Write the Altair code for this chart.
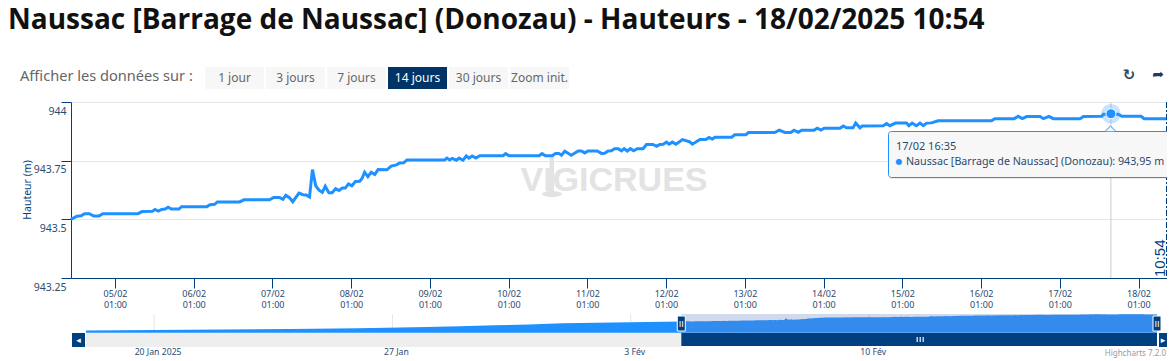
import altair as alt
import pandas as pd

# ---- data ----
START = pd.Timestamp("2025-02-04T11:36:00")
END = pd.Timestamp("2025-02-18T10:54:00")

hours = [0.0,1.8,3.1,4.1,5.6,6.9,8.5,9.7,20.4,21.7,24.8,25.6,26.6,27.6,28.7,29.6,30.6,32.9,33.7,41.4,42.4,43.8,44.6,51.4,52.7,60.5,61.8,63.6,64.6,65.5,66.6,67.6,69.5,70.7,71.7,72.7,73.6,74.6,75.6,76.6,77.5,78.6,79.6,80.7,81.7,82.7,83.6,84.6,85.6,86.7,88.0,88.7,89.5,90.5,91.5,92.6,93.6,
 96.3,97.6,99.2,100.2,101.4,102.4,113.9,114.6,115.4,116.2,117.5,118.3,119.5,120.5,121.3,122.3,123.4,124.6,131.7,132.5,133.5,142.7,143.6,144.6,146.7,147.7,148.7,149.5,150.5,152.5,154.6,155.6,156.6,157.6,160.4,161.7,162.7,163.7,164.7,165.7,166.8,167.8,168.6,169.6,170.5,171.5,172.6,174.4,175.4,177.4,178.5,179.5,180.5,181.5,182.3,183.3,184.4,186.4,188.6,189.4,191.7,193.5,194.5,195.5,196.3,201.4,202.3,205.7,206.5,214.5,215.9,
 217.6,219.4,220.4,221.7,222.7,226.5,227.5,228.6,229.6,234.4,235.4,236.4,238.4,239.2,240.5,241.2,247.6,248.6,249.6,251.3,254.7,255.4,256.4,257.7,258.8,259.8,260.8,262.3,264.3,280.6,281.6,287.5,288.7,290.0,291.3,295.4,296.4,298.1,299.4,307.6,308.6,314.2,314.7,319.2,320.3,326.2,327.1,335.3]
heights = [943.50,943.513,943.515,943.524,943.524,943.514,943.514,943.524,943.524,943.533,943.534,943.542,943.535,943.542,943.544,943.552,943.544,943.544,943.554,943.554,943.562,943.564,943.574,943.574,943.583,943.583,943.593,943.593,943.585,943.602,943.592,943.575,943.612,943.605,943.604,943.595,943.712,943.643,943.624,943.615,943.641,943.613,943.613,943.631,943.623,943.633,943.633,943.651,943.643,943.661,943.662,943.674,943.701,943.682,943.701,943.691,943.712,
 943.711,943.727,943.732,943.740,943.741,943.753,943.753,943.761,943.753,943.760,943.752,943.761,943.752,943.770,943.761,943.770,943.761,943.771,943.771,943.780,943.771,943.771,943.780,943.771,943.771,943.781,943.781,943.773,943.790,943.773,943.791,943.791,943.783,943.791,943.791,943.781,943.782,943.791,943.792,943.801,943.801,943.792,943.801,943.791,943.801,943.792,943.801,943.801,943.819,943.819,943.811,943.819,943.820,943.829,943.820,943.829,943.820,943.840,943.830,943.820,943.840,943.840,943.849,943.842,943.850,943.850,943.860,943.860,943.870,943.870,943.880,
 943.870,943.870,943.880,943.871,943.880,943.880,943.888,943.880,943.888,943.888,943.898,943.890,943.890,943.910,943.890,943.898,943.899,943.908,943.899,943.910,943.910,943.899,943.910,943.899,943.910,943.899,943.910,943.911,943.920,943.920,943.929,943.929,943.939,943.929,943.938,943.938,943.929,943.939,943.929,943.929,943.938,943.939,943.948,943.948,943.939,943.939,943.929,943.929]

early_dates = ["2025-01-18","2025-01-20","2025-01-22","2025-01-24","2025-01-26","2025-01-28","2025-01-29","2025-01-30","2025-01-31","2025-02-01","2025-02-02","2025-02-03"]
early_heights = [942.96,942.99,943.02,943.06,943.10,943.17,943.22,943.28,943.32,943.40,943.43,943.46]

main_ticks = [f"2025-02-{d:02d}T01:00:00Z" for d in range(5, 19)]
nav_ticks = ["2025-01-20T00:00:00Z", "2025-01-27T00:00:00Z", "2025-02-03T00:00:00Z", "2025-02-10T00:00:00Z"]
nav_labels = ["20 Jan 2025", "27 Jan", "3 Fév", "10 Fév"]
y_ticks = [943.25, 943.5, 943.75, 944]

buttons = ["1 jour", "3 jours", "7 jours", "14 jours", "30 jours", "Zoom init."]
button_active = [False, False, False, True, False, False]

TITLE = "Naussac [Barrage de Naussac] (Donozau) - Hauteurs - 18/02/2025 10:54"
PROMPT = "Afficher les données sur :"
TIP_DATE = "17/02 16:35"
TIP_TEXT = "Naussac [Barrage de Naussac] (Donozau): 943,95 m"
HOVER_TIME = "2025-02-17T16:35:00Z"
HOVER_VALUE = 943.95

# ---- styles ----
FONT = "Noto Sans"
NAVY = "#003f82"
TXT = "#2b4a70"
BLUE = "#1e90ff"
OX, OY = 71, 102          # page position of the plot origin

times = [(START + pd.Timedelta(hours=h)).strftime("%Y-%m-%dT%H:%M:%SZ") for h in hours]
main_df = pd.DataFrame({"t": times, "v": heights})
nav_df = pd.DataFrame({"t": [d + "T00:00:00Z" for d in early_dates] + times,
                       "v": early_heights + heights})
end_s = END.strftime("%Y-%m-%dT%H:%M:%SZ")
start_s = START.strftime("%Y-%m-%dT%H:%M:%SZ")
nav_start = "2025-01-18T00:00:00Z"

one = alt.Data(values=[{}])

def text(s, x, y, **kw):
    kw.setdefault("font", FONT)
    kw.setdefault("align", "left")
    kw.setdefault("baseline", "middle")
    return alt.Chart(one).mark_text(**kw).encode(
        x=alt.value(x - OX), y=alt.value(y - OY), text=alt.value(s))

def box(x0, x1, y0, y1, **kw):
    return alt.Chart(one).mark_rect(**kw).encode(
        x=alt.value(x0 - OX), x2=alt.value(x1 - OX),
        y=alt.value(y0 - OY), y2=alt.value(y1 - OY))

# ---- main panel ----
xm = alt.X("t:T", title=None,
           scale=alt.Scale(type="utc", domain=[start_s, end_s], range=[0, 1100], nice=False),
           axis=alt.Axis(orient="bottom", values=main_ticks, grid=False, domainColor=NAVY,
                         tickColor=NAVY, tickSize=10, labelColor=TXT, labelFont=FONT,
                         labelFontSize=9, labelPadding=1, labelLineHeight=11.5,
                         labelFlush=False, labelOverlap=False, labelBaseline="top",
                         labelExpr="[utcFormat(datum.value,'%d/%m'),utcFormat(datum.value,'%H:%M')]"))
ym = alt.Y("v:Q", title=None,
           scale=alt.Scale(domain=[943.25, 944], nice=False, zero=False),
           axis=alt.Axis(values=y_ticks, grid=True, gridColor="#e6e6e6", domainColor=NAVY,
                         tickColor=NAVY, tickSize=10, labelColor=TXT, labelFont=FONT,
                         labelFontSize=10.5, labelPadding=-5, labelOffset=9, labelOverlap=False,
                         labelFlush=False, format=".2~f"))

WM = "#e3e3e3"
wm_word = text("VIGICRUES", 614, 181, font="Liberation Sans", fontSize=34, fontWeight="bold",
               color=WM, align="center")
wm_stem = box(549.5, 554, 156, 192, color=WM)
wm_base = alt.Chart(one).mark_point(shape="M -1 0 A 1 0.3 0 1 0 1 0 A 1 0.3 0 1 0 -1 0", size=400,
                                    filled=True, color=WM, opacity=1).encode(
    x=alt.value(552 - OX), y=alt.value(194 - OY))
line = alt.Chart(main_df).mark_line(color=BLUE, strokeWidth=3, interpolate="linear").encode(x=xm, y=ym)

hover = alt.Data(values=[{"t": HOVER_TIME, "v": HOVER_VALUE}])
x_plain = alt.X("t:T", title=None)
y_plain = alt.Y("v:Q", title=None)
cross = alt.Chart(hover).mark_rule(color="#cccccc", strokeWidth=1).encode(
    x=x_plain, y=alt.value(0), y2=alt.value(176))
halo = alt.Chart(hover).mark_point(filled=True, color=BLUE, opacity=0.25, size=380).encode(x=x_plain, y=y_plain)
dot = alt.Chart(hover).mark_point(filled=True, color=BLUE, opacity=1, size=100, stroke="white", strokeWidth=1).encode(x=x_plain, y=y_plain)

main_layer = alt.layer(line, cross, halo, dot)

# ---- navigator ----
NAV_DOMAIN = [942.83, 943.96]
xn = alt.X("t:T", title=None, axis=None,
           scale=alt.Scale(type="utc", domain=[nav_start, end_s], range=[15, 1086], nice=False, padding=0))
yn = alt.Y("v:Q", title=None, axis=None,
           scale=alt.Scale(domain=NAV_DOMAIN, range=[230.7, 212.0], nice=False, zero=False))

nav_grid = alt.Chart(pd.DataFrame({"t": nav_ticks, "v": [NAV_DOMAIN[0]] * 4, "v2": [NAV_DOMAIN[1]] * 4})).mark_rule(
    color="#e6e6e6").encode(x=xn, y=yn, y2="v2:Q")
nav_area = alt.Chart(nav_df).mark_area(color=BLUE, opacity=1).encode(
    x=xn, y=yn, y2=alt.datum(NAV_DOMAIN[0]))
nav_mask = alt.Chart(pd.DataFrame({"t": [start_s], "t2": [end_s], "v": [NAV_DOMAIN[1]], "v2": [NAV_DOMAIN[0]]})).mark_rect(
    color="#6685c2", opacity=0.3).encode(x=xn, x2="t2:T", y=yn, y2="v2:Q")
nav_text = alt.Chart(pd.DataFrame({"t": nav_ticks, "s": nav_labels})).mark_text(
    font=FONT, fontSize=8.7, color=TXT, align="center", dx=4, baseline="middle").encode(
    x=xn, y=alt.value(352 - OY), text="s:N")
track = alt.Chart(pd.DataFrame({"t": [nav_start], "t2": [start_s]})).mark_rect(color="#eeeeee").encode(
    x=xn, x2="t2:T", y=alt.value(333 - OY), y2=alt.value(347 - OY))
thumb = alt.Chart(pd.DataFrame({"t": [start_s], "t2": [end_s]})).mark_rect(color="#004080").encode(
    x=xn, x2="t2:T", y=alt.value(333 - OY), y2=alt.value(346 - OY))
handles = alt.Chart(pd.DataFrame({"t": [start_s, end_s]})).mark_bar(
    color="#004080", stroke="white", strokeWidth=1, size=8).encode(
    x=xn, y=alt.value(316 - OY), y2=alt.value(331 - OY))
handle_lines = alt.Chart(pd.DataFrame({"t": [start_s, end_s]})).mark_text(
    text="II", color="white", font="Liberation Sans", fontSize=9, baseline="middle").encode(
    x=xn, y=alt.value(323.5 - OY))
nav_layer = alt.layer(nav_grid, nav_area, nav_mask, track, thumb, handles, handle_lines, nav_text)

# ---- page furniture ----
deco = []
deco.append(text(TITLE, 8, 29, font="Open Sans", fontSize=28, fontWeight=700, color="#111111", baseline="alphabetic"))
for i, (b, act) in enumerate(zip(buttons, button_active)):
    x0 = 205 + i * 61
    deco.append(box(x0, x0 + 59, 67, 89, color="#003366" if act else "#f7f7f7"))
    deco.append(text(b, x0 + 29.5, 78, fontSize=12, align="center",
                     color="#ffffff" if act else "#666666"))
deco.append(text(PROMPT, 20, 77, fontSize=14.6, color="#666666"))
deco.append(text("↻", 1129, 75, font="DejaVu Sans", fontSize=15, align="center", color="#33475b", fontWeight="bold"))
deco.append(text("➦", 1158, 75, font="DejaVu Sans", fontSize=14, align="center", color="#1c3d66"))
deco.append(text("Hauteur (m)", 28, 190, fontSize=10.5, angle=270, align="center", color=NAVY))
deco.append(text("10:54", 1159.5, 277, font="Liberation Sans", fontSize=15, angle=270, align="left", color=NAVY))
deco.append(alt.Chart(alt.Data(values=[{}])).mark_rule(color=NAVY, strokeWidth=1, strokeDash=[6, 2, 2, 2]).encode(
    x=alt.value(1166.5 - OX), y=alt.value(0), y2=alt.value(176)))
# scrollbar end buttons and grips
deco.append(box(72, 85, 333, 347, color="#004080"))
deco.append(box(1159, 1172, 333, 347, color="#004080"))
deco.append(text("◂", 78.5, 340, font="DejaVu Sans", fontSize=9, align="center", color="white"))
deco.append(text("▸", 1163, 340, font="DejaVu Sans", fontSize=9, align="center", color="white"))
for gx in (916.5, 919.5, 922.5):
    deco.append(box(gx, gx + 1.5, 337, 342, color="#c7d3e3"))
deco.append(text("Highcharts 7.2.0", 1166, 354, fontSize=8, align="right", color="#999999"))
# tooltip
deco.append(box(890, 1190, 133, 179, color="#000000", opacity=0.08))
deco.append(box(888.5, 1190, 131.5, 177.5, color="#f7f7f7", stroke=BLUE, strokeWidth=1, cornerRadius=3))
deco.append(alt.Chart(one).mark_point(shape="M -1 1 L 0 0 L 1 1", size=110, filled=True, fill="#f7f7f7",
                                      stroke=BLUE, strokeWidth=1, opacity=1).encode(
    x=alt.value(1110.5 - OX), y=alt.value(126 - OY)))
deco.append(text(TIP_DATE, 896, 147, fontSize=11, color=TXT))
deco.append(text("●", 899, 162, font="DejaVu Sans", fontSize=8, align="center", color=BLUE))
deco.append(text(TIP_TEXT, 906, 162, fontSize=10.7, color=TXT))

chart = alt.layer(wm_word, wm_stem, wm_base, main_layer, nav_layer, *deco).resolve_scale(
    x="independent", y="independent", color="independent"
).properties(
    width=1096, height=176,
    padding={"left": OX - 8, "top": OY - 8, "right": 0, "bottom": 83},
    autosize=alt.AutoSizeParams(type="none"),
).configure_view(stroke=None).configure_axis(domainWidth=1, tickWidth=1)

chart.save("out.html", embed_options={"renderer": "svg", "actions": False})
